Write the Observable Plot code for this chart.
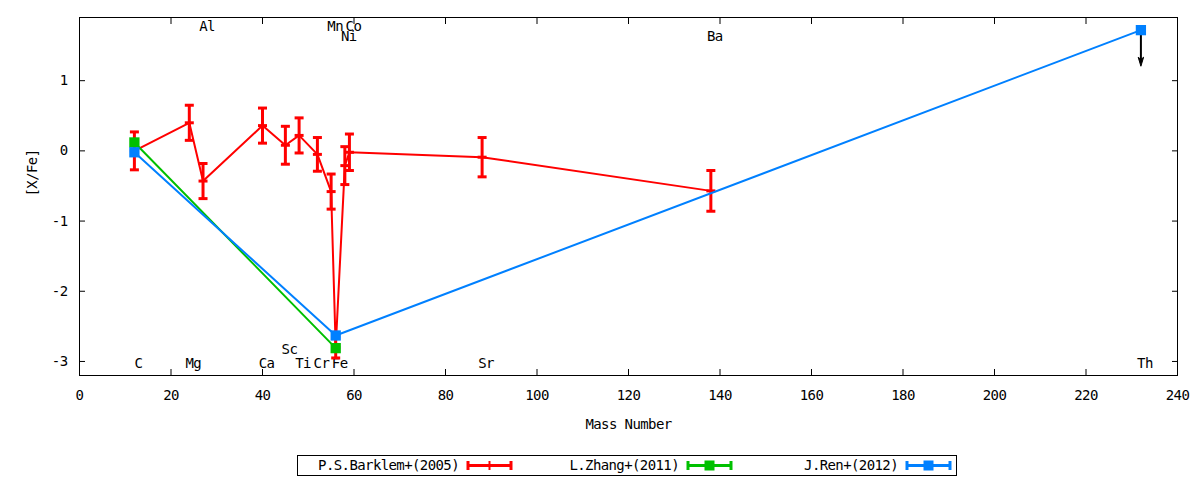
<!DOCTYPE html>
<html>
<head>
<meta charset="utf-8">
<script src="https://cdn.jsdelivr.net/npm/d3@7"></script>
<script src="https://cdn.jsdelivr.net/npm/@observablehq/plot@0.6"></script>
<style>
  body { margin: 0; background: #fff; }
  #wrap { position: relative; width: 1200px; height: 480px; background: #fff; font-family: 'DejaVu Sans Mono', monospace; }
  #legend { position: absolute; left: 297px; top: 455px; }
  svg text { letter-spacing: -0.6px; }
</style>
</head>
<body>
<div id="wrap"><div id="chart"></div><div id="legend"></div></div>
<script>
// ---- data ----
const xTicks = [0, 20, 40, 60, 80, 100, 120, 140, 160, 180, 200, 220, 240];
const yTicks = [-3, -2, -1, 0, 1];

// P.S.Barklem+(2005)
const redMass = [12, 24, 27, 40, 45, 48, 52, 55, 56, 58, 59, 88, 138];
const redVal  = [0.0, 0.40, -0.43, 0.36, 0.08, 0.22, -0.05, -0.58, -2.80, -0.21, -0.02, -0.09, -0.57];
const redErr  = [0.27, 0.25, 0.25, 0.25, 0.27, 0.25, 0.24, 0.25, 0.15, 0.27, 0.26, 0.28, 0.29];

// L.Zhang+(2011)
const greenMass = [12, 56];
const greenVal  = [0.12, -2.81];

// J.Ren+(2012)
const blueMass = [12, 56, 232];
const blueVal  = [-0.02, -2.63, 1.72];

// Th upper limit arrow
const limitMass = [232];
const limitFrom = [1.72];
const limitTo   = [1.27];

// element labels
const elNames  = ["C", "Mg", "Al", "Ca", "Sc", "Ti", "Cr", "Mn", "Fe", "Co", "Ni", "Sr", "Ba", "Th"];
const elMass   = [12, 24, 27, 40, 45, 48, 52, 55, 56, 59, 58, 88, 138, 232];
const elLabelY = [-3.03, -3.03, 1.77, -3.03, -2.83, -3.03, -3.03, 1.77, -3.03, 1.77, 1.63, -3.03, 1.63, -3.03];

const seriesNames = ["P.S.Barklem+(2005)", "L.Zhang+(2011)", "J.Ren+(2012)"];
const seriesColors = ["#ff0000", "#00c000", "#0080ff"];

// ---- tables ----
const red = redMass.map((m, i) => ({m, v: redVal[i], e: redErr[i]}));
const green = greenMass.map((m, i) => ({m, v: greenVal[i]}));
const blue = blueMass.map((m, i) => ({m, v: blueVal[i]}));
const limits = limitMass.map((m, i) => ({m, a: limitFrom[i], b: limitTo[i]}));
const labels = elNames.map((n, i) => ({n, m: elMass[i], y: elLabelY[i]}));

const hbar = { draw(ctx, size) { const r = Math.sqrt(size / Math.PI); ctx.moveTo(-r, 0); ctx.lineTo(r, 0); } };
const head = { draw(ctx, size) { const r = Math.sqrt(size / Math.PI); ctx.moveTo(0, r); ctx.lineTo(-r * 0.6, -r); ctx.lineTo(0, -r * 0.5); ctx.lineTo(r * 0.6, -r); ctx.closePath(); } };

const chart = Plot.plot({
  width: 1200,
  height: 440,
  marginLeft: 79,
  marginRight: 23,
  marginTop: 17,
  marginBottom: 65,
  x: {domain: [0, 240]},
  y: {domain: [-3.2, 1.9]},
  style: {fontFamily: "'DejaVu Sans Mono', monospace", fontSize: "14px", color: "black", background: "white"},
  marks: [
    Plot.axisX(xTicks, {anchor: "bottom", tickSize: -6, tickPadding: 21, tickFormat: d => String(d), label: null}),
    Plot.axisX(xTicks, {anchor: "top", tickSize: -6, tickFormat: () => "", label: null}),
    Plot.axisY(yTicks, {anchor: "left", tickSize: -6, tickPadding: 18, tickFormat: d => String(d), label: null}),
    Plot.axisY(yTicks, {anchor: "right", tickSize: -6, tickFormat: () => "", label: null}),
    Plot.frame({stroke: "black"}),
    Plot.text(["Mass Number"], {frameAnchor: "bottom", dy: 53}),
    Plot.text(["[X/Fe]"], {frameAnchor: "left", dx: -47, rotate: -90}),
    Plot.text(labels, {x: "m", y: "y", text: "n", dx: 4}),
    // red series
    Plot.line(red, {x: "m", y: "v", stroke: seriesColors[0], strokeWidth: 2}),
    Plot.ruleX(red, {x: "m", y1: d => d.v - d.e, y2: d => d.v + d.e, stroke: seriesColors[0], strokeWidth: 3}),
    Plot.dot(red, {x: "m", y: d => d.v - d.e, symbol: hbar, r: 4.5, stroke: seriesColors[0], strokeWidth: 3}),
    Plot.dot(red, {x: "m", y: d => d.v + d.e, symbol: hbar, r: 4.5, stroke: seriesColors[0], strokeWidth: 3}),
    Plot.dot(red, {x: "m", y: "v", symbol: hbar, r: 4.5, stroke: seriesColors[0], strokeWidth: 3}),
    // green series
    Plot.line(green, {x: "m", y: "v", stroke: seriesColors[1], strokeWidth: 2}),
    Plot.dot(green, {x: "m", y: "v", symbol: "square", r: 5.8, fill: seriesColors[1]}),
    // blue series
    Plot.line(blue, {x: "m", y: "v", stroke: seriesColors[2], strokeWidth: 2}),
    Plot.ruleX(limits, {x: "m", y1: "a", y2: "b", stroke: "black", strokeWidth: 2}),
    Plot.dot(limits, {x: "m", y: "b", symbol: head, r: 4.5, fill: "black", stroke: "black", strokeWidth: 1}),
    Plot.dot(blue, {x: "m", y: "v", symbol: "square", r: 5.8, fill: seriesColors[2]})
  ]
});
document.getElementById("chart").appendChild(chart);

// ---- legend ----
const lw = 660, lh = 21;
const leg = d3.select("#legend").append("svg").attr("width", lw).attr("height", lh)
  .style("font-family", "'DejaVu Sans Mono', monospace").style("font-size", "14px");
leg.append("rect").attr("x", 0.5).attr("y", 0.5).attr("width", lw - 1).attr("height", lh - 1)
  .attr("fill", "white").attr("stroke", "black");
const textEnds = [162, 382, 601];
seriesNames.forEach((name, i) => {
  const te = textEnds[i];
  const c = seriesColors[i];
  leg.append("text").attr("x", te).attr("y", lh / 2).attr("dy", "0.35em")
    .attr("text-anchor", "end").attr("fill", "black").text(name);
  const x0 = te + 9, x1 = te + 52, cy = lh / 2;
  leg.append("line").attr("x1", x0).attr("x2", x1).attr("y1", cy).attr("y2", cy).attr("stroke", c).attr("stroke-width", 3);
  [x0, x1].forEach(x => leg.append("line").attr("x1", x).attr("x2", x).attr("y1", cy - 4.5).attr("y2", cy + 4.5).attr("stroke", c).attr("stroke-width", 3));
  const xm = (x0 + x1) / 2;
  if (i === 0) {
    leg.append("line").attr("x1", xm).attr("x2", xm).attr("y1", cy - 4.5).attr("y2", cy + 4.5).attr("stroke", c).attr("stroke-width", 2);
  } else {
    leg.append("rect").attr("x", xm - 5).attr("y", cy - 5).attr("width", 10).attr("height", 10).attr("fill", c);
  }
});
</script>
</body>
</html>
